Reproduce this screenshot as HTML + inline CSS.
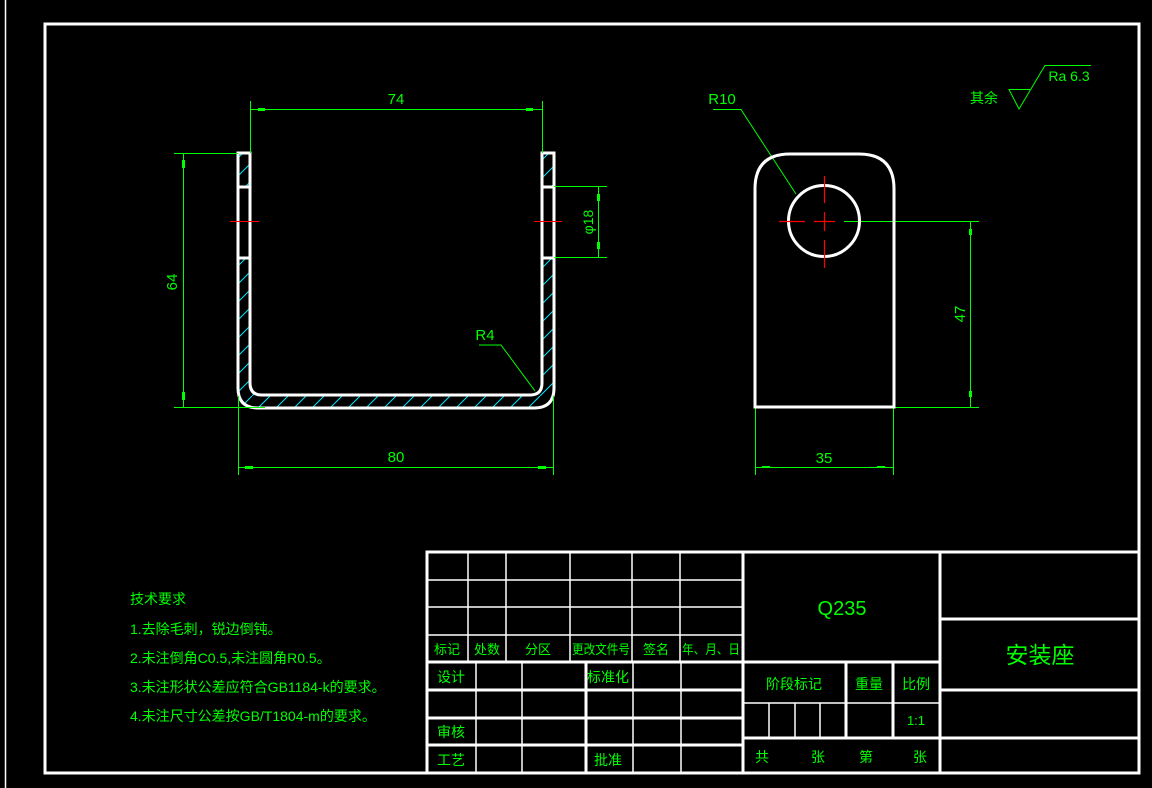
<!DOCTYPE html>
<html><head><meta charset="utf-8"><style>
html,body{margin:0;padding:0;background:#000;}
svg{display:block}
text{font-family:"Liberation Sans","Noto Sans CJK SC",sans-serif;fill:#00ff00;}
</style></head><body>
<svg width="1152" height="788" viewBox="0 0 1152 788" xmlns="http://www.w3.org/2000/svg">
<defs>
<pattern id="h" width="18" height="18" patternUnits="userSpaceOnUse">
<line x1="0" y1="18" x2="18" y2="0" stroke="#00e5ff" stroke-width="1"/>
</pattern>
</defs>
<rect width="1152" height="788" fill="#000"/>
<line x1="5.5" y1="0" x2="5.5" y2="788" stroke="#fff" stroke-width="1.5"/>
<rect x="45" y="24" width="1094" height="749" fill="none" stroke="#fff" stroke-width="3"/>

<!-- front section -->
<path d="M238,153 V388 Q238,408 258,408 H534 Q554,408 554,388 V153 H542 V383 Q542,395 530,395 H262 Q250,395 250,383 V153 Z" fill="url(#h)"/>
<rect x="239.5" y="188" width="9" height="69" fill="#000"/>
<rect x="543.5" y="188" width="9" height="69" fill="#000"/>
<g fill="none" stroke="#fff" stroke-width="3">
<path d="M238,153 V388 Q238,408 258,408 H534 Q554,408 554,388 V153 H542 V383 Q542,395 530,395 H262 Q250,395 250,383 V153 Z"/>
<line x1="238" y1="187" x2="250" y2="187"/><line x1="238" y1="258" x2="250" y2="258"/>
<line x1="542" y1="187" x2="554" y2="187"/><line x1="542" y1="258" x2="554" y2="258"/>
</g>
<g stroke="#ff0000" stroke-width="1"><line x1="230" y1="221.5" x2="259" y2="221.5"/><line x1="534" y1="221.5" x2="562" y2="221.5"/></g>

<g stroke="#00ff00" stroke-width="1" fill="none">
<line x1="250.5" y1="101" x2="250.5" y2="153"/><line x1="542.5" y1="101" x2="542.5" y2="153"/>
<line x1="250" y1="109.5" x2="542" y2="109.5"/>
<line x1="174" y1="153.5" x2="238" y2="153.5"/><line x1="174" y1="407.5" x2="265" y2="407.5"/>
<line x1="183.5" y1="153" x2="183.5" y2="408"/>
<line x1="238.5" y1="396" x2="238.5" y2="475"/><line x1="553.5" y1="396" x2="553.5" y2="475"/>
<line x1="238" y1="467.5" x2="554" y2="467.5"/>
<line x1="554" y1="186.5" x2="607" y2="186.5"/><line x1="554" y1="257.5" x2="607" y2="257.5"/>
<line x1="598.5" y1="187" x2="598.5" y2="258"/>
<polyline points="479,345 501,345 535,391"/>
<polyline points="713,109.5 741,109.5 796,194"/>
<line x1="844" y1="221.5" x2="979" y2="221.5"/><line x1="893" y1="407.5" x2="979" y2="407.5"/>
<line x1="970.5" y1="221" x2="970.5" y2="407"/>
<line x1="755.5" y1="408" x2="755.5" y2="475"/><line x1="893.5" y1="408" x2="893.5" y2="475"/>
<line x1="755" y1="467.5" x2="893" y2="467.5"/>
<polyline points="1030,89.5 1009,89.5 1019,109 1045,65.5 1091,65.5"/>
</g>
<g fill="#00ff00">
<rect x="258" y="108" width="7" height="3"/><rect x="526" y="108" width="7" height="3"/>
<rect x="182" y="160" width="3" height="8"/><rect x="182" y="392" width="3" height="8"/>
<rect x="245" y="466" width="8" height="3"/><rect x="538" y="466" width="8" height="3"/>
<rect x="597" y="194" width="3" height="7"/><rect x="597" y="242" width="3" height="7"/>
<rect x="969" y="229" width="3" height="6"/><rect x="969" y="391" width="3" height="6"/>
<rect x="762" y="466" width="8" height="2"/><rect x="877" y="466" width="8" height="2"/>
</g>
<text x="396" y="104" font-size="15" text-anchor="middle">74</text>
<text x="396" y="462" font-size="15" text-anchor="middle">80</text>
<text x="485" y="340" font-size="15" text-anchor="middle">R4</text>
<text transform="translate(177,282) rotate(-90)" font-size="15" text-anchor="middle">64</text>
<text transform="translate(593,222) rotate(-90)" font-size="14" text-anchor="middle">φ18</text>
<text x="722" y="104" font-size="15" text-anchor="middle">R10</text>
<text transform="translate(965,314) rotate(-90)" font-size="15" text-anchor="middle">47</text>
<text x="824" y="463" font-size="15" text-anchor="middle">35</text>
<text x="984" y="103" font-size="14" text-anchor="middle">其余</text>
<text x="1069" y="81" font-size="14" text-anchor="middle">Ra 6.3</text>

<!-- side view -->
<path d="M755,407 V189 Q755,154 790,154 H859 Q894,154 894,189 V407 Z" fill="none" stroke="#fff" stroke-width="3"/>
<circle cx="824" cy="221" r="35.5" fill="none" stroke="#fff" stroke-width="3"/>
<g stroke="#ff0000" stroke-width="1.2">
<line x1="824.5" y1="176" x2="824.5" y2="203"/><line x1="824.5" y1="212" x2="824.5" y2="231"/><line x1="824.5" y1="240" x2="824.5" y2="268"/>
<line x1="779" y1="221.5" x2="805" y2="221.5"/><line x1="814" y1="221.5" x2="835" y2="221.5"/>
</g>

<!-- notes -->
<g font-size="14">
<text x="130" y="604">技术要求</text>
<text x="130" y="634">1.去除毛刺，锐边倒钝。</text>
<text x="130" y="663">2.未注倒角C0.5,未注圆角R0.5。</text>
<text x="130" y="692">3.未注形状公差应符合GB1184-k的要求。</text>
<text x="130" y="721">4.未注尺寸公差按GB/T1804-m的要求。</text>
</g>

<!-- title block -->
<g stroke="#fff" fill="none">
<rect x="427" y="552" width="712" height="221" stroke-width="3"/>
<g stroke-width="1.5">
<line x1="427" y1="580" x2="743" y2="580"/><line x1="427" y1="607" x2="743" y2="607"/><line x1="427" y1="635" x2="743" y2="635"/>
<line x1="468" y1="552" x2="468" y2="662"/><line x1="506" y1="552" x2="506" y2="662"/><line x1="570" y1="552" x2="570" y2="662"/><line x1="632" y1="552" x2="632" y2="662"/><line x1="680" y1="552" x2="680" y2="662"/>
<line x1="476" y1="662" x2="476" y2="773"/><line x1="522" y1="662" x2="522" y2="773"/><line x1="633" y1="662" x2="633" y2="773"/><line x1="681" y1="662" x2="681" y2="773"/>
<line x1="769" y1="703" x2="769" y2="738"/><line x1="795" y1="703" x2="795" y2="738"/><line x1="820" y1="703" x2="820" y2="738"/>
<line x1="743" y1="703" x2="940" y2="703"/>
</g>
<g stroke-width="3">
<line x1="427" y1="662" x2="940" y2="662"/>
<line x1="427" y1="690" x2="743" y2="690"/><line x1="427" y1="718" x2="743" y2="718"/><line x1="427" y1="745" x2="743" y2="745"/>
<line x1="586" y1="662" x2="586" y2="773"/>
<line x1="743" y1="552" x2="743" y2="773"/><line x1="940" y1="552" x2="940" y2="773"/>
<line x1="846" y1="662" x2="846" y2="738"/><line x1="893" y1="662" x2="893" y2="738"/>
<line x1="743" y1="738" x2="1139" y2="738"/>
<line x1="940" y1="619" x2="1139" y2="619"/><line x1="940" y1="690" x2="1139" y2="690"/>
</g>
</g>
<g font-size="14" text-anchor="middle">
<g font-size="13">
<text x="447" y="654">标记</text><text x="487" y="654">处数</text><text x="538" y="654">分区</text>
<text x="601" y="654" textLength="58" lengthAdjust="spacingAndGlyphs">更改文件号</text>
<text x="656" y="654">签名</text>
<text x="711" y="654" textLength="58" lengthAdjust="spacingAndGlyphs">年、月、日</text>
</g>
<text x="451" y="682">设计</text><text x="608" y="682">标准化</text>
<text x="451" y="737">审核</text><text x="451" y="765">工艺</text><text x="608" y="765">批准</text>
<text x="794" y="689">阶段标记</text><text x="869" y="689">重量</text><text x="916" y="689">比例</text>
<text x="916" y="725" font-size="13">1:1</text>
<text x="762" y="762">共</text><text x="818" y="762">张</text><text x="866" y="762">第</text><text x="920" y="762">张</text>
<text x="842" y="615" font-size="20">Q235</text>
<text x="1040" y="663" font-size="23">安装座</text>
</g>
</svg>
</body></html>
